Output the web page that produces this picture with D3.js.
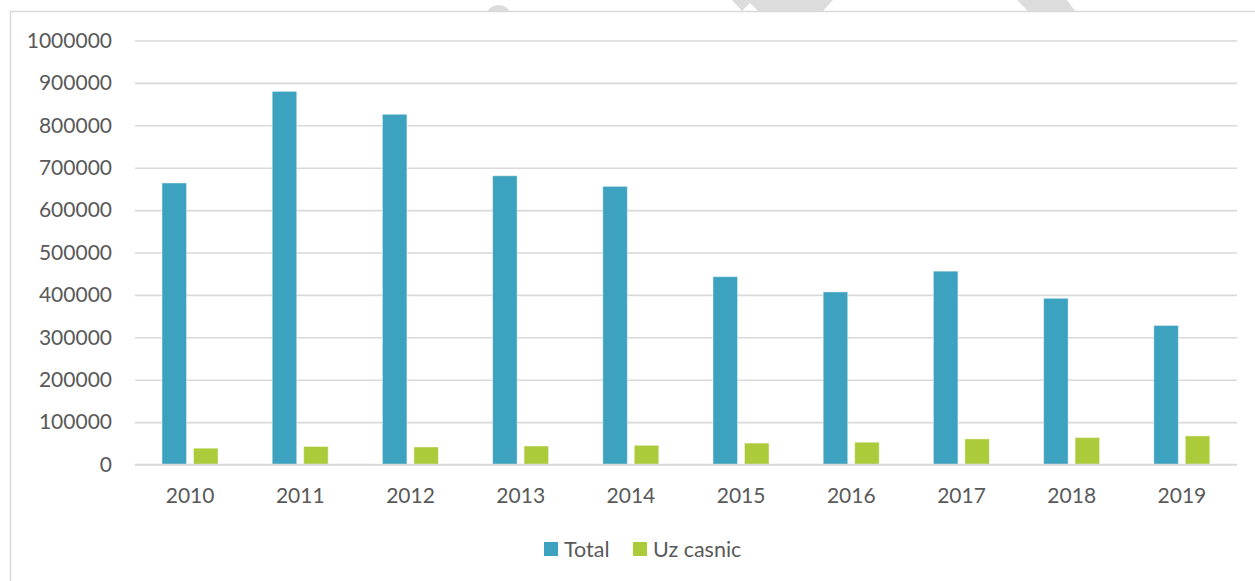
<!DOCTYPE html>
<html>
<head>
<meta charset="utf-8">
<script src="https://cdn.jsdelivr.net/npm/d3@7"></script>
<style>
  html, body { margin: 0; padding: 0; background: #ffffff; }
  svg { display: block; }
  text { font-family: Lato, "Open Sans", "Liberation Sans", sans-serif; fill: #595959; }
</style>
</head>
<body>
<svg id="chart" width="1255" height="581"></svg>
<script>
// Yearly values for the two series
const years = ["2010", "2011", "2012", "2013", "2014", "2015", "2016", "2017", "2018", "2019"];
const seriesNames = ["Total", "Uz casnic"];
const totalValues = [664000, 880000, 826000, 681000, 656000, 443000, 407000, 456000, 392000, 328000];
const casnicValues = [38500, 42500, 41300, 43600, 45300, 50500, 52600, 60400, 63700, 67500];
const yTicks = [0, 100000, 200000, 300000, 400000, 500000, 600000, 700000, 800000, 900000, 1000000];
const colors = ["#3ca2bf", "#accb3b"];

const svg = d3.select("#chart");

// faint stamp shapes peeking above the frame
const stamp = svg.append("g").attr("fill", "#dcdcdc");
stamp.append("ellipse").attr("cx", 498.5).attr("cy", 15).attr("rx", 12).attr("ry", 10);
stamp.append("polygon").attr("points", "732,0 833,0 823,11 758,11 750,3 742,11");
stamp.append("polygon").attr("points", "1017,0 1067,0 1075,11 1028,11");

// chart frame
svg.append("rect")
  .attr("x", 10.5).attr("y", 11.5)
  .attr("width", 1300).attr("height", 640)
  .attr("fill", "#ffffff")
  .attr("stroke", "#d9d9d9").attr("stroke-width", 1.5);

const plot = { left: 135, right: 1237, top: 40.5, bottom: 464.5 };

const x0 = d3.scaleBand().domain(years).range([plot.left, plot.right]).paddingInner(0).paddingOuter(0);
const x1 = d3.scaleBand().domain(seriesNames).range([27, 83]).paddingInner(0.22).paddingOuter(0);
const y = d3.scaleLinear().domain([0, 1000000]).range([plot.bottom, plot.top]);

// horizontal gridlines with value labels
const yAxis = d3.axisLeft(y)
  .tickValues(yTicks)
  .tickSize(-(plot.right - plot.left))
  .tickPadding(23)
  .tickFormat(d3.format("d"));

const gy = svg.append("g")
  .attr("transform", `translate(${plot.left},0)`)
  .call(yAxis);
gy.select(".domain").remove();
gy.selectAll(".tick line").attr("stroke", "#d9d9d9").attr("stroke-width", 1.6);
gy.selectAll(".tick text")
  .attr("font-size", 21)
  .attr("fill", "#595959")
  .style("font-family", "Lato, 'Open Sans', sans-serif");

// category labels along the bottom
const xAxis = d3.axisBottom(x0).tickSize(0).tickPadding(24);
const gx = svg.append("g")
  .attr("transform", `translate(0,${plot.bottom})`)
  .call(xAxis);
gx.select(".domain").remove();
gx.selectAll(".tick text")
  .attr("font-size", 21)
  .attr("fill", "#595959")
  .style("font-family", "Lato, 'Open Sans', sans-serif");

// bars
const rows = years.map((yr, i) => ({ year: yr, values: [totalValues[i], casnicValues[i]] }));

const groups = svg.append("g").selectAll("g")
  .data(rows)
  .join("g")
  .attr("transform", d => `translate(${x0(d.year)},0)`);

groups.selectAll("rect")
  .data(d => d.values.map((v, k) => ({ name: seriesNames[k], value: v, k })))
  .join("rect")
  .attr("x", d => x1(d.name))
  .attr("y", d => y(d.value))
  .attr("width", x1.bandwidth())
  .attr("height", d => y(0) - y(d.value))
  .attr("fill", d => colors[d.k])
  .attr("stroke", "#ffffff")
  .attr("stroke-opacity", 0.45)
  .attr("stroke-width", 1);

// redraw the baseline over the bar feet
svg.append("line")
  .attr("x1", plot.left).attr("x2", plot.right)
  .attr("y1", y(0)).attr("y2", y(0))
  .attr("stroke", "#d9d9d9").attr("stroke-width", 1.6);

// legend
const legend = svg.append("g");
const legendItems = [
  { name: seriesNames[0], color: colors[0], x: 544 },
  { name: seriesNames[1], color: colors[1], x: 633 }
];
legendItems.forEach(it => {
  legend.append("rect")
    .attr("x", it.x).attr("y", 542)
    .attr("width", 14).attr("height", 14)
    .attr("fill", it.color);
  legend.append("text")
    .attr("x", it.x + 20).attr("y", 557)
    .attr("font-size", 21.5)
    .text(it.name);
});
</script>
</body>
</html>
